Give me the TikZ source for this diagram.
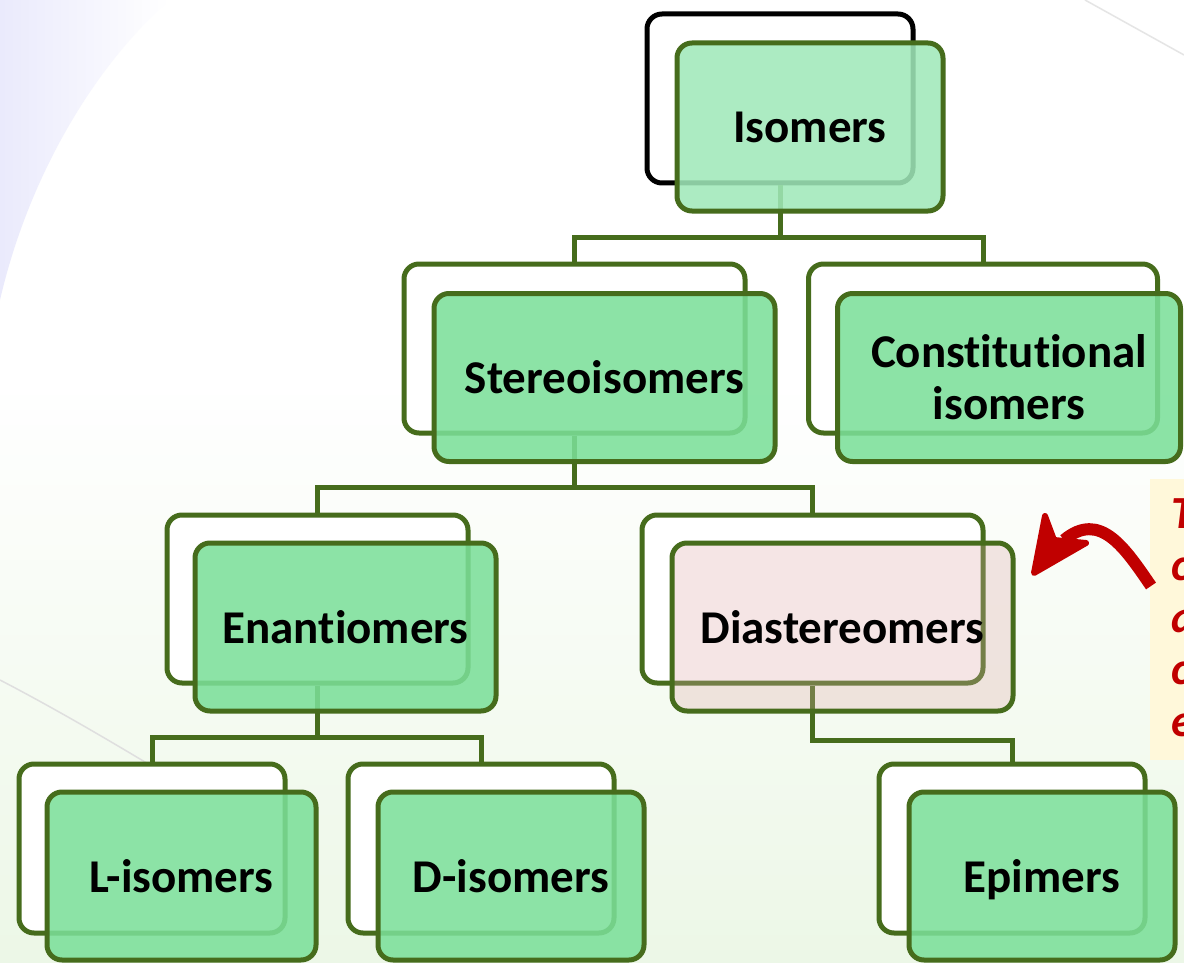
\documentclass[tikz,border=0pt]{standalone}
\usepackage{fontspec}
\setmainfont{Carlito}[Ligatures=NoCommon]
\usetikzlibrary{calc}
\definecolor{boxline}{RGB}{70,108,28}
\definecolor{boxfill}{RGB}{123,223,153}
\definecolor{topfill}{RGB}{160,233,185}
\definecolor{pinkfill}{RGB}{222,172,172}
\definecolor{notered}{RGB}{192,0,0}
\definecolor{noteback}{RGB}{255,248,218}
\definecolor{lavender}{RGB}{234,234,252}
\definecolor{mint}{RGB}{236,247,230}
\begin{document}
\begin{tikzpicture}[x=1pt,y=-1pt,
  backbox/.style={draw=boxline, line width=5pt, rounded corners=15pt, fill=white, inner sep=0pt},
  frontbox/.style={draw=boxline, line width=5pt, rounded corners=15pt, fill=boxfill,
    fill opacity=0.87, text opacity=1, inner sep=0pt, align=center,
    font=\fontsize{47}{52}\selectfont\bfseries},
  conn/.style={draw=boxline, line width=5pt},
]
% page and soft background
\useasboundingbox (0,0) rectangle (1184,963);
\clip (0,0) rectangle (1184,963);
\fill[white] (0,0) rectangle (1184,963);
\foreach \k in {0,...,39}{
  \pgfmathsetmacro{\pct}{100*\k/39}
  \fill[mint!\pct!white] (0,{380+\k*15}) rectangle (1184,{396+\k*15});
}
\shade[left color=lavender, right color=white] (0,0) -- (170,0) .. controls (100,60) and (30,170) .. (0,300) -- cycle;
\draw[gray!25, line width=1.5pt] (0,680) .. controls (50,706) and (100,735) .. (150,765);
\draw[gray!20, line width=1.5pt] (1085,0) -- (1184,55);

% rear frames
\node[backbox, draw=black, minimum width=266pt, minimum height=169pt] (isoB) at (780,98.5) {};
\node[backbox, minimum width=341pt, minimum height=169pt] (stereoB) at (574.5,348.5) {};
\node[backbox, minimum width=349pt, minimum height=169pt] (constB) at (983,348.5) {};
\node[backbox, minimum width=301pt, minimum height=168pt] (enanB) at (317.5,599) {};
\node[backbox, minimum width=341pt, minimum height=168pt] (diaB) at (812.5,599) {};
\node[backbox, minimum width=266pt, minimum height=169pt] (lB) at (152,848.5) {};
\node[backbox, minimum width=266pt, minimum height=169pt] (dB) at (481,848.5) {};
\node[backbox, minimum width=266pt, minimum height=169pt] (epiB) at (1012,848.5) {};

% tree connectors
\draw[conn] (isoB.south) -- ++(0,52);
\draw[conn] (stereoB.north) |- ($(isoB.south)+(0,52)$) -| (constB.north);
\draw[conn] (stereoB.south) -- ++(0,52);
\draw[conn] (enanB.north) |- ($(stereoB.south)+(0,52)$) -| (diaB.north);
\draw[conn] (enanB.south) -- ++(0,52);
\draw[conn] (lB.north) |- ($(enanB.south)+(0,52)$) -| (dB.north);
\draw[conn] (diaB.south) -- ++(0,55) -| (epiB.north);

% front panels
\node[frontbox, fill=topfill, minimum width=266pt, minimum height=168pt] (iso) at (810,127) {Isomers};
\node[frontbox, minimum width=341pt, minimum height=168pt] (stereo) at (604.5,377.5) {Stereoisomers};
\node[frontbox, minimum width=343pt, minimum height=168pt] (const) at (1009,377.5) {Constitutional\\isomers};
\node[frontbox, minimum width=301pt, minimum height=168pt] (enan) at (345.5,627) {Enantiomers};
\node[frontbox, fill=pinkfill, fill opacity=0.3, minimum width=341pt, minimum height=168pt] (dia) at (842.5,627) {Diastereomers};
\node[frontbox, minimum width=269pt, minimum height=168pt] (liso) at (181.5,876) {L-isomers};
\node[frontbox, minimum width=266pt, minimum height=168pt] (diso) at (511,876) {D-isomers};
\node[frontbox, text depth=0pt, minimum width=266pt, minimum height=168pt] (epi) at (1042,876) {Epimers};

% side note and pointing arrow
\fill[noteback] (1150,479) rectangle (1184,760);
\node[anchor=north west, inner sep=0pt, align=left, text=notered,
  font=\fontsize{46}{52}\selectfont\bfseries\itshape] (note) at (1171,496)
  {Those differing in\\configuration at\\a single chiral\\carbon are called\\epimers};
\coordinate (arrowtail) at (1151,586);
\coordinate (arrowtip) at (1034,573);
\draw[notered, line width=12pt] (arrowtail) .. controls (1125,548) and (1100,510) .. (1064,540);
\fill[notered, draw=notered, line width=6pt, line join=round]
  (arrowtip) -- (1045,516) -- (1054,540) -- (1086,543) -- cycle;
\end{tikzpicture}
\end{document}
